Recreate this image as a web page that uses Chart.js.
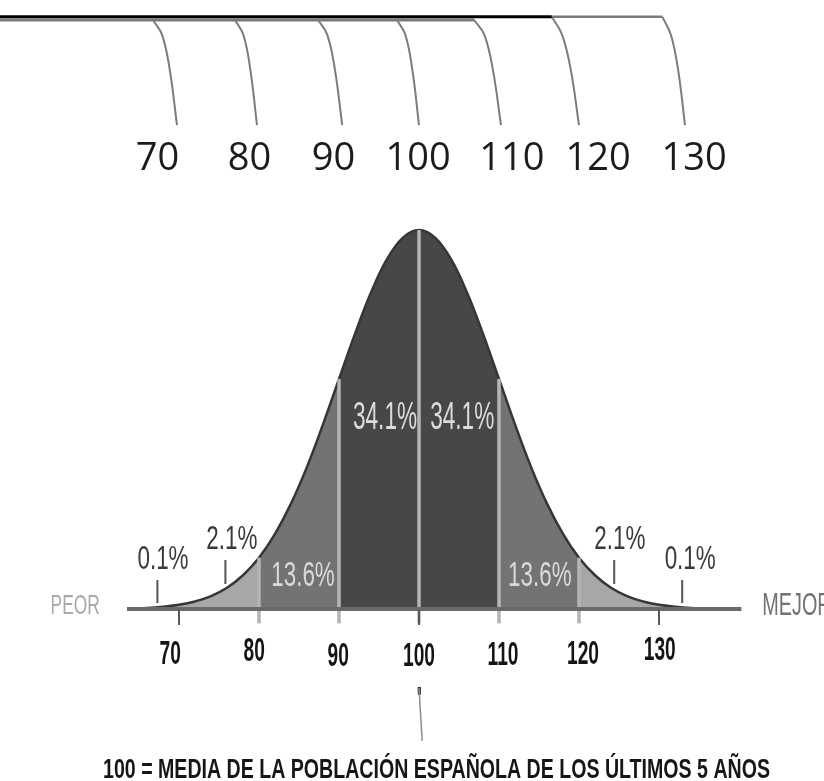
<!DOCTYPE html>
<html>
<head>
<meta charset="utf-8">
<script src="https://cdn.jsdelivr.net/npm/chart.js@4.4.1/dist/chart.umd.min.js"></script>
<style>
    html, body { margin: 0; padding: 0; background: #fff; }
    #bell { display: block; }
</style>
</head>
<body>
<canvas id="bell" width="824" height="781"></canvas>
<script>
// curve, height relative to the peak (= 100)
const curveX = [64, 66, 68, 70, 72, 74, 76, 78, 80, 82, 84, 86, 88, 90, 92, 94, 96, 98, 100,
    102, 104, 106, 108, 110, 112, 114, 116, 118, 120, 122, 124, 126, 128, 130, 132, 134, 136, 138, 140];
const curveY = [0.2, 0.3, 0.6, 1.1, 2.0, 3.4, 5.6, 8.9, 13.5, 19.8, 27.8, 37.5, 48.7, 60.7, 72.6, 83.5, 92.3, 98.0, 100,
    98.0, 92.3, 83.5, 72.6, 60.7, 48.7, 37.5, 27.8, 19.8, 13.5, 8.9, 5.6, 3.4, 2.0, 1.1, 0.6, 0.3, 0.2, 0.1, 0.1];

const bandEdges = [80, 90, 100, 110, 120];
const scoreTicks = [70, 100, 130];
const scoreLabels = ["70", "80", "90", "100", "110", "120", "130"];
const scoreLabelX = [68.9, 79.4, 89.9, 100, 110.5, 120.5, 130.1];
const scoreLabelY = [-12.1, -11.3, -12.7, -12.7, -12.4, -12.1, -11.1];

const shareLabels = ["0.1%", "2.1%", "13.6%", "34.1%", "34.1%", "13.6%", "2.1%", "0.1%"];
const shareX = [68.0, 76.6, 85.5, 95.75, 105.4, 115.1, 125.1, 133.9];
const shareY = [12.9, 18.2, 8.7, 50.4, 50.4, 8.7, 18.2, 12.9];

const calloutX = [67.3, 75.8, 124.4, 132.9];
const calloutTop = [7.65, 12.9, 12.9, 7.65];
const calloutBottom = [1.6, 6.6, 6.6, 1.6];

// the ruler drawn above the curve
const rulerLabels = ["70", "80", "90", "100", "110", "120", "130"];
const rulerLabelX = [67.3, 78.8, 89.3, 99.9, 111.6, 122.4, 134.4];
const rulerLineStart = [66.75, 77.0, 87.4, 97.25, 106.9, 116.6, 130.4];
const rulerLineEnd = [69.75, 79.75, 90.4, 100, 110.25, 120, 133.25];

const noteText = "100 = MEDIA DE LA POBLACIÓN ESPAÑOLA DE LOS ÚLTIMOS 5 AÑOS";

const X_MIN = 47.625, X_MAX = 150.625, Y_MIN = -45.38, Y_MAX = 160.69;
const AXIS_FROM = 63.5, AXIS_TO = 140.3;

const DARK = "#474747", MID = "#737373", LIGHT = "#a7a7a7";

function bandColor(x) {
    if (x > 90 && x < 110) return DARK;
    if (x > 80 && x < 120) return MID;
    return LIGHT;
}

function heightAt(x) {
    return curveY[curveX.indexOf(x)];
}

function segment(points, color, width, order) {
    return {
        data: points,
        borderColor: color,
        borderWidth: width,
        pointRadius: 0,
        fill: false,
        tension: 0,
        order,
    };
}

const datasets = [];

// bell curve with shaded bands
datasets.push({
    data: curveX.map((x, i) => ({ x, y: curveY[i] })),
    borderColor: "#363636",
    borderWidth: 2.5,
    pointRadius: 0,
    tension: 0.4,
    fill: "origin",
    backgroundColor: LIGHT,
    segment: {
        backgroundColor: (ctx) => bandColor((ctx.p0.parsed.x + ctx.p1.parsed.x) / 2),
    },
    order: 5,
});

bandEdges.forEach((x) => {
    datasets.push(segment([{ x, y: -3.8 }, { x, y: heightAt(x) }], "#b5b5b5", 3.5, 3));
});

datasets.push(segment([{ x: AXIS_FROM, y: 0 }, { x: AXIS_TO, y: 0 }], "#6a6a6a", 4, 2));

scoreTicks.forEach((x) => {
    datasets.push(segment([{ x, y: 0 }, { x, y: -4.2 }], "#5a5a5a", 2, 1));
});

calloutX.forEach((x, i) => {
    datasets.push(segment([{ x, y: calloutTop[i] }, { x, y: calloutBottom[i] }], "#555", 2, 1));
});

// pointer to the mean note
datasets.push(segment([{ x: 100, y: -20.8 }, { x: 100.4, y: -34.8 }], "#8c8c8c", 1.5, 1));
datasets.push(segment([{ x: 100, y: -20.6 }, { x: 100.05, y: -22.6 }], "#333", 3, 1));

// ruler lines
const TOP_HIGH = 156.3, TOP_LOW = 155.4;
datasets.push(segment([{ x: X_MIN, y: TOP_LOW }, { x: rulerLineStart[4], y: TOP_LOW }], "#7a7a7a", 3, 2));
datasets.push(segment([{ x: X_MIN, y: TOP_HIGH }, { x: rulerLineStart[5], y: TOP_HIGH }], "#000", 3, 1));
datasets.push(segment([{ x: rulerLineStart[5], y: TOP_HIGH }, { x: rulerLineStart[6], y: TOP_HIGH }], "#7a7a7a", 2.5, 1));

rulerLineStart.forEach((x0, i) => {
    const x1 = rulerLineEnd[i];
    const y0 = i < 5 ? TOP_LOW : TOP_HIGH;
    const dx = x1 - x0;
    datasets.push({
        ...segment([
            { x: x0, y: y0 },
            { x: x0 + dx * 0.38, y: 151.5 },
            { x: x0 + dx * 0.7, y: 142.2 },
            { x: x1, y: 127.7 },
        ], "#7c7c7c", 2, 2),
        tension: 0.4,
    });
});

const textStyles = {
    ruler: { font: "38px 'Open Sans'", color: "#1c1c1c", squeeze: 1 },
    share: { font: "34px 'Liberation Sans'", color: "#3a3a3a", squeeze: 0.66 },
    shareLight: { font: "35px 'Liberation Sans'", color: "#dadada", squeeze: 0.64 },
    shareBig: { font: "39px 'Liberation Sans'", color: "#dcdcdc", squeeze: 0.58 },
    score: { font: "bold 33px 'Liberation Sans'", color: "#141414", squeeze: 0.58 },
    side: { font: "32px 'Liberation Sans'", color: "#727272", squeeze: 0.62 },
    sideLight: { font: "28px 'Liberation Sans'", color: "#a9a9a9", squeeze: 0.62 },
    note: { font: "bold 27px 'Liberation Sans'", color: "#161616", fit: 667 },
};

function drawText(ctx, text, px, py, style, align) {
    ctx.save();
    ctx.font = style.font;
    ctx.fillStyle = style.color;
    ctx.textAlign = align || "center";
    ctx.textBaseline = "middle";
    let squeeze = style.squeeze || 1;
    if (style.fit) squeeze = style.fit / ctx.measureText(text).width;
    ctx.translate(px, py);
    ctx.scale(squeeze, 1);
    ctx.fillText(text, 0, 0);
    ctx.restore();
}

const labelPlugin = {
    id: "labels",
    afterDatasetsDraw(chart) {
        const { ctx } = chart;
        const sx = chart.scales.x, sy = chart.scales.y;
        const px = (v) => sx.getPixelForValue(v);
        const py = (v) => sy.getPixelForValue(v);

        rulerLabels.forEach((t, i) => drawText(ctx, t, px(rulerLabelX[i]), py(118.7), textStyles.ruler));

        shareLabels.forEach((t, i) => {
            let style = textStyles.share;
            if (i === 3 || i === 4) style = textStyles.shareBig;
            else if (i === 2 || i === 5) style = textStyles.shareLight;
            drawText(ctx, t, px(shareX[i]), py(shareY[i]), style);
        });

        scoreLabels.forEach((t, i) => drawText(ctx, t, px(scoreLabelX[i]), py(scoreLabelY[i]), textStyles.score));

        drawText(ctx, "PEOR", px(60.1), py(0.8), textStyles.sideLight, "right");
        drawText(ctx, "MEJOR", px(142.9), py(0.8), textStyles.side, "left");

        drawText(ctx, noteText, px(60.5), py(-42.5), textStyles.note, "left");
    },
};

new Chart(document.getElementById("bell"), {
    type: "line",
    data: { datasets },
    options: {
        responsive: false,
        animation: false,
        layout: { padding: 0 },
        plugins: { legend: { display: false }, tooltip: { enabled: false } },
        scales: {
            x: { type: "linear", min: X_MIN, max: X_MAX, display: false },
            y: { type: "linear", min: Y_MIN, max: Y_MAX, display: false },
        },
    },
    plugins: [labelPlugin],
});
</script>
</body>
</html>
